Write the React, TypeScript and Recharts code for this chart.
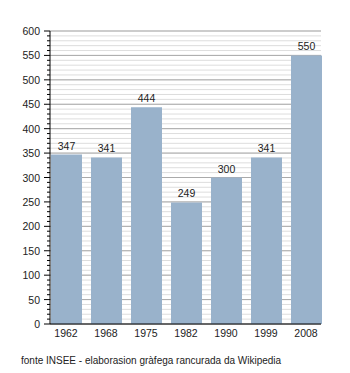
import React from "react";
import { BarChart, Bar, XAxis, YAxis, CartesianGrid, LabelList } from "recharts";

const years = ["1962", "1968", "1975", "1982", "1990", "1999", "2008"];
const population = [347, 341, 444, 249, 300, 341, 550];
const majorTicks = [0, 50, 100, 150, 200, 250, 300, 350, 400, 450, 500, 550, 600];
const minorTicks = [
  0, 10, 20, 30, 40, 50, 60, 70, 80, 90, 100, 110, 120, 130, 140, 150, 160, 170, 180, 190,
  200, 210, 220, 230, 240, 250, 260, 270, 280, 290, 300, 310, 320, 330, 340, 350, 360, 370,
  380, 390, 400, 410, 420, 430, 440, 450, 460, 470, 480, 490, 500, 510, 520, 530, 540, 550,
  560, 570, 580, 590, 600,
];

const data = years.map((year, i) => ({ year, value: population[i] }));

const font = "'Liberation Sans', Arial, sans-serif";

const YTick = (props: any) => {
  const { x, y, payload } = props;
  const major = payload.value % 50 === 0;
  return (
    <g>
      <line x1={x + 8} x2={x + (major ? 2 : 5)} y1={y} y2={y} stroke="#000" />
      {major && (
        <text x={x - 2} y={y} dy={4} textAnchor="end" fontSize={10.5} fill="#222" fontFamily={font}>
          {payload.value}
        </text>
      )}
    </g>
  );
};

const App: React.FC = () => {
  return (
    <div style={{ position: "absolute", left: 0, top: 0, width: 350, height: 373, background: "#fff" }}>
      <BarChart
        width={350}
        height={373}
        data={data}
        margin={{ top: 31, right: 29, bottom: 19, left: 0 }}
        barSize={31}
      >
        <CartesianGrid horizontal vertical={false} horizontalValues={minorTicks} stroke="#dddddd" />
        <CartesianGrid horizontal vertical={false} horizontalValues={majorTicks} stroke="#aaaaaa" />
        <XAxis
          dataKey="year"
          tickLine={false}
          axisLine={{ stroke: "#000" }}
          tick={{ fontSize: 10.5, fill: "#222", fontFamily: font }}
          tickMargin={0}
          padding={{ left: -4, right: -5 }}
          height={30}
          interval={0}
        />
        <YAxis
          width={50}
          domain={[0, 600]}
          ticks={minorTicks}
          interval={0}
          tickLine={false}
          axisLine={{ stroke: "#000" }}
          tick={<YTick />}
        />
        <Bar dataKey="value" fill="#99b2cb" isAnimationActive={false}>
          <LabelList
            dataKey="value"
            position="top"
            offset={5}
            style={{ fontSize: 10.5, fill: "#222", fontFamily: font }}
          />
        </Bar>
      </BarChart>
      <div
        style={{
          position: "absolute",
          left: 21,
          top: 355,
          fontSize: 10,
          fontFamily: font,
          color: "#222",
          whiteSpace: "nowrap",
        }}
      >
        fonte INSEE - elaborasion gràfega rancurada da Wikipedia
      </div>
    </div>
  );
};

export default App;
